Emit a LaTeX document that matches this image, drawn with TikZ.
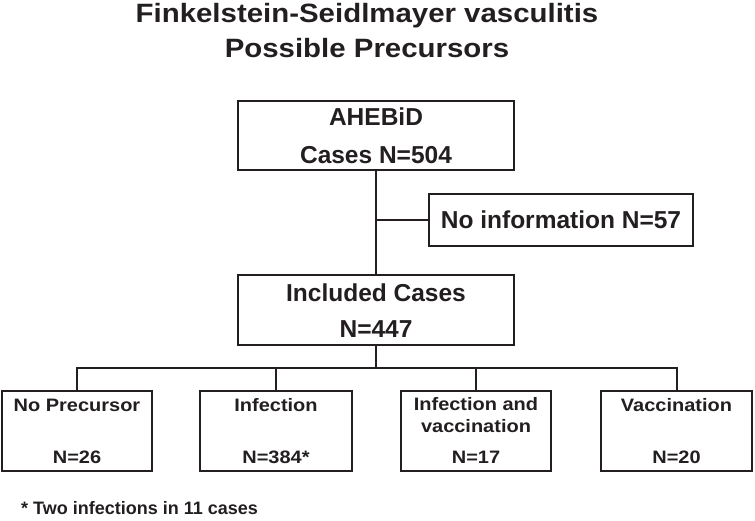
\documentclass[tikz,border=0pt]{standalone}
\usepackage{graphicx}
\usepackage{fontspec}
\setmainfont{Liberation Sans}
\definecolor{ink}{HTML}{231F20}
\newcommand{\widetext}[1]{\scalebox{1.11}[1]{#1}}
\begin{document}
\begin{tikzpicture}[x=1pt,y=-1pt,
  box/.style={draw=ink, line width=2pt, rectangle, inner sep=0pt, fill=white},
  bigtxt/.style={text=ink, inner sep=0pt, anchor=base, font=\bfseries\fontsize{24.5}{28}\selectfont},
  smalltxt/.style={text=ink, inner sep=0pt, anchor=base, font=\bfseries\fontsize{18}{22}\selectfont},
  titletxt/.style={text=ink, inner sep=0pt, anchor=base, font=\bfseries\fontsize{26.5}{32}\selectfont},
  conn/.style={draw=ink, line width=2pt}]
\useasboundingbox (0,0) rectangle (755,520);
% title
\node[titletxt] (title1) at (367,22) {\widetext{Finkelstein-Seidlmayer vasculitis}};
\node[titletxt] (title2) at (367,57) {\widetext{Possible Precursors}};
% boxes
\node[box, minimum width=276pt, minimum height=69pt] (ahebid) at (376,135.5) {};
\node[box, minimum width=264pt, minimum height=52pt] (noinfo) at (561,220) {};
\node[box, minimum width=276pt, minimum height=70pt] (incl) at (376,310) {};
\node[box, minimum width=150pt, minimum height=80pt] (b1) at (77,431) {};
\node[box, minimum width=152pt, minimum height=80pt] (b2) at (276,431) {};
\node[box, minimum width=150pt, minimum height=80pt] (b3) at (476,431) {};
\node[box, minimum width=151pt, minimum height=80pt] (b4) at (676.5,431) {};
% connectors
\coordinate (bus) at (376,368);
\draw[conn] (ahebid.south) -- (incl.north);
\draw[conn] (ahebid.south |- noinfo.west) -- (noinfo.west);
\draw[conn] (incl.south) -- (bus);
\draw[conn] (b1.north) -- (b1.north |- bus) -- (b4.north |- bus) -- (b4.north);
\draw[conn] (b2.north) -- (b2.north |- bus);
\draw[conn] (b3.north) -- (b3.north |- bus);
% texts
\node[bigtxt] (t-ahebid) at (376,125) {AHEBiD};
\node[bigtxt] (t-cases) at (376,163) {Cases N=504};
\node[bigtxt] (t-noinfo) at (561,228) {No information N=57};
\node[bigtxt] (t-incl) at (376,301) {Included Cases};
\node[bigtxt] (t-n447) at (376,337) {N=447};
\node[smalltxt] (t-b1a) at (77,411) {\widetext{No Precursor}};
\node[smalltxt] (t-b1b) at (77,463) {\widetext{N=26}};
\node[smalltxt] (t-b2a) at (276,411) {\widetext{Infection}};
\node[smalltxt] (t-b2b) at (276,463) {\widetext{N=384*}};
\node[smalltxt] (t-b3a) at (476,410) {\widetext{Infection and}};
\node[smalltxt] (t-b3b) at (476,432) {\widetext{vaccination}};
\node[smalltxt] (t-b3c) at (476,463) {\widetext{N=17}};
\node[smalltxt] (t-b4a) at (676.5,411) {\widetext{Vaccination}};
\node[smalltxt] (t-b4b) at (676.5,463) {\widetext{N=20}};
\node[smalltxt, anchor=base west] (foot) at (21,514) {* Two infections in 11 cases};
\end{tikzpicture}
\end{document}
